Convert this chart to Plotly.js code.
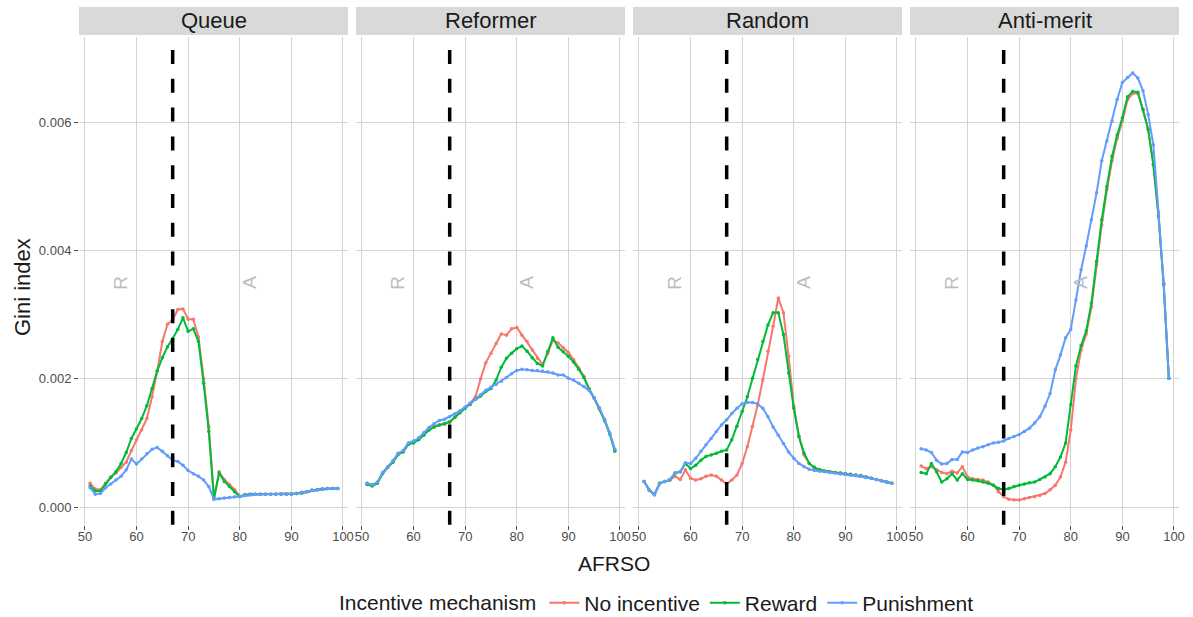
<!DOCTYPE html>
<html>
<head>
<meta charset="utf-8">
<script src="https://cdn.plot.ly/plotly-3.0.1.min.js"></script>
<style>html,body{margin:0;padding:0;background:#fff;}#chart{width:1193px;height:617px;}</style>
</head>
<body>
<div id="chart"></div>
<script>
// AFRSO values (x)
const afrso = [51,52,53,54,55,56,57,58,59,60,61,62,63,64,65,66,67,68,69,70,71,72,73,74,75,76,77,78,79,80,81,82,83,84,85,86,87,88,89,90,91,92,93,94,95,96,97,98,99];

const panels = ["Queue", "Reformer", "Random", "Anti-merit"];
const seriesNames = ["No incentive", "Reward", "Punishment"];
const seriesColors = ["#F8766D", "#00BA38", "#619CFF"];

// Gini index values, in units of 0.001
const queueNoIncentive = [0.37,0.28,0.27,0.37,0.47,0.53,0.62,0.70,0.88,1.05,1.20,1.38,1.72,2.12,2.58,2.85,2.92,3.08,3.09,2.93,2.93,2.65,2.00,1.25,0.14,0.55,0.43,0.35,0.27,0.17,0.19,0.20,0.20,0.20,0.20,0.20,0.20,0.20,0.20,0.20,0.21,0.22,0.24,0.26,0.27,0.28,0.29,0.29,0.29];
const queueReward = [0.33,0.25,0.25,0.36,0.46,0.55,0.68,0.85,1.07,1.22,1.38,1.58,1.85,2.12,2.33,2.50,2.63,2.77,2.95,2.74,2.78,2.58,1.93,1.18,0.13,0.53,0.40,0.32,0.24,0.16,0.19,0.20,0.20,0.20,0.20,0.20,0.20,0.20,0.20,0.20,0.21,0.22,0.24,0.26,0.27,0.28,0.29,0.29,0.29];
const queuePunishment = [0.30,0.20,0.21,0.30,0.36,0.42,0.48,0.58,0.75,0.67,0.75,0.83,0.90,0.93,0.87,0.80,0.73,0.71,0.65,0.57,0.52,0.48,0.42,0.32,0.12,0.13,0.14,0.15,0.16,0.17,0.18,0.19,0.20,0.20,0.20,0.20,0.20,0.20,0.20,0.20,0.21,0.23,0.24,0.26,0.27,0.28,0.29,0.29,0.29];

const reformerNoIncentive = [0.37,0.34,0.38,0.53,0.62,0.70,0.82,0.87,0.98,1.02,1.06,1.14,1.21,1.26,1.28,1.29,1.32,1.40,1.48,1.55,1.62,1.72,2.00,2.25,2.40,2.55,2.70,2.68,2.78,2.80,2.68,2.58,2.45,2.32,2.22,2.40,2.60,2.56,2.48,2.41,2.30,2.17,2.04,1.84,1.70,1.54,1.36,1.15,0.89];
const reformerReward = [0.35,0.33,0.37,0.52,0.62,0.70,0.82,0.86,0.98,1.00,1.05,1.12,1.20,1.25,1.28,1.30,1.33,1.40,1.47,1.54,1.60,1.68,1.73,1.80,1.85,1.98,2.18,2.32,2.40,2.47,2.51,2.43,2.33,2.24,2.20,2.43,2.64,2.49,2.42,2.35,2.26,2.15,2.02,1.84,1.70,1.53,1.35,1.14,0.87];
const reformerPunishment = [0.37,0.35,0.39,0.54,0.63,0.72,0.84,0.88,1.00,1.03,1.08,1.16,1.24,1.30,1.35,1.37,1.41,1.45,1.50,1.56,1.62,1.68,1.75,1.82,1.87,1.91,1.96,2.02,2.08,2.13,2.15,2.14,2.13,2.13,2.12,2.11,2.09,2.06,2.06,2.01,1.98,1.93,1.88,1.82,1.70,1.55,1.37,1.16,0.90];

const randomNoIncentive = [0.40,0.27,0.20,0.37,0.40,0.42,0.48,0.43,0.58,0.45,0.42,0.44,0.48,0.50,0.48,0.42,0.36,0.42,0.50,0.68,0.94,1.26,1.59,1.98,2.43,2.82,3.26,3.03,2.35,1.57,1.10,0.81,0.68,0.60,0.58,0.56,0.55,0.54,0.53,0.52,0.51,0.50,0.49,0.47,0.45,0.43,0.41,0.39,0.37];
const randomReward = [0.40,0.26,0.19,0.37,0.40,0.42,0.53,0.55,0.68,0.60,0.65,0.73,0.79,0.81,0.84,0.87,0.89,1.05,1.26,1.49,1.72,2.01,2.30,2.58,2.84,3.03,3.03,2.69,2.09,1.54,1.10,0.84,0.68,0.62,0.58,0.56,0.55,0.54,0.53,0.52,0.51,0.50,0.49,0.47,0.45,0.43,0.41,0.39,0.37];
const randomPunishment = [0.40,0.26,0.19,0.36,0.40,0.43,0.53,0.55,0.69,0.68,0.76,0.87,0.97,1.07,1.18,1.28,1.36,1.46,1.54,1.61,1.63,1.63,1.61,1.54,1.41,1.25,1.12,0.99,0.86,0.76,0.68,0.63,0.59,0.57,0.56,0.55,0.54,0.53,0.52,0.51,0.50,0.49,0.48,0.46,0.45,0.43,0.41,0.39,0.37];

const antiNoIncentive = [0.64,0.60,0.63,0.58,0.54,0.52,0.56,0.53,0.63,0.47,0.44,0.43,0.42,0.39,0.34,0.24,0.16,0.12,0.11,0.11,0.13,0.15,0.16,0.18,0.21,0.27,0.34,0.47,0.70,1.20,2.00,2.45,2.70,3.12,3.78,4.40,4.95,5.40,5.75,6.02,6.35,6.45,6.45,6.20,5.89,5.34,4.54,3.47,2.01];
const antiReward = [0.54,0.52,0.68,0.55,0.39,0.44,0.52,0.42,0.52,0.43,0.42,0.41,0.39,0.37,0.34,0.29,0.27,0.29,0.32,0.34,0.36,0.38,0.39,0.43,0.47,0.52,0.63,0.78,1.00,1.60,2.20,2.52,2.75,3.18,3.83,4.48,5.00,5.47,5.80,6.07,6.40,6.48,6.47,6.20,5.89,5.34,4.54,3.47,2.01];
const antiPunishment = [0.91,0.89,0.85,0.73,0.67,0.68,0.74,0.74,0.86,0.85,0.89,0.92,0.94,0.97,1.00,1.01,1.03,1.07,1.10,1.13,1.18,1.23,1.31,1.41,1.57,1.77,2.14,2.37,2.64,2.77,3.23,3.70,4.07,4.48,4.90,5.40,5.71,6.02,6.36,6.62,6.70,6.77,6.69,6.49,6.12,5.65,4.60,3.49,2.01];

const panelData = [
  [queueNoIncentive, queueReward, queuePunishment],
  [reformerNoIncentive, reformerReward, reformerPunishment],
  [randomNoIncentive, randomReward, randomPunishment],
  [antiNoIncentive, antiReward, antiPunishment]
];

const xTicks = [50, 60, 70, 80, 90, 100];
const yTicks = [0, 0.002, 0.004, 0.006];
const threshold = 67;
const regionLabels = [{t: "R", x: 57}, {t: "A", x: 82}];
const SCALE = 0.001;

const FONT = "Liberation Sans, Arial, Helvetica, sans-serif";
const W = 1193, H = 617;
const mL = 79, mR = 13, mT = 37, mB = 92;
const plotW = W - mL - mR, plotH = H - mT - mB;
const panelW = 269, gap = 8;

const traces = [];
panelData.forEach((series, p) => {
  const xa = p === 0 ? "x" : "x" + (p + 1);
  const ya = p === 0 ? "y" : "y" + (p + 1);
  series.forEach((vals, s) => {
    traces.push({
      type: "scatter",
      mode: "lines+markers",
      x: afrso,
      y: vals.map(v => v * SCALE),
      xaxis: xa, yaxis: ya,
      name: seriesNames[s],
      legendgroup: seriesNames[s],
      showlegend: p === 0,
      line: {color: seriesColors[s], width: 2},
      marker: {color: seriesColors[s], size: 3.5},
      hoverinfo: "x+y+name"
    });
  });
});

const layout = {
  width: W, height: H,
  margin: {l: mL, r: mR, t: mT, b: mB, pad: 0, autoexpand: false},
  paper_bgcolor: "#ffffff",
  plot_bgcolor: "#ffffff",
  font: {family: FONT, color: "#1a1a1a"},
  showlegend: true,
  legend: {
    orientation: "h",
    x: (658 - mL) / plotW, xanchor: "center",
    y: (mT + plotH - 603) / plotH, yanchor: "middle",
    title: {text: "Incentive mechanism", side: "left", font: {size: 21, color: "#1a1a1a"}},
    font: {size: 21, color: "#1a1a1a"},
    itemwidth: 30,
    tracegroupgap: 0,
    bgcolor: "rgba(0,0,0,0)"
  },
  shapes: [],
  annotations: []
};

panels.forEach((name, p) => {
  const sfx = p === 0 ? "" : String(p + 1);
  const d0 = (p * (panelW + gap)) / plotW;
  const d1 = (p * (panelW + gap) + panelW) / plotW;
  layout["xaxis" + sfx] = {
    domain: [d0, d1],
    range: [48.85, 100.97],
    anchor: "y" + sfx,
    tickmode: "array", tickvals: xTicks,
    ticks: "outside", ticklen: 4, tickwidth: 1, tickcolor: "#4d4d4d",
    ticklabelstandoff: -5,
    tickfont: {size: 13, color: "#4d4d4d", family: FONT},
    showgrid: true, gridcolor: "#d4d4d4", gridwidth: 1,
    zeroline: false, showline: false, fixedrange: true
  };
  layout["yaxis" + sfx] = {
    domain: [0, 1],
    range: [-0.00028, 0.00733],
    anchor: "x" + sfx,
    matches: p === 0 ? undefined : "y",
    tickmode: "array", tickvals: yTicks,
    tickformat: ".3f",
    showticklabels: p === 0,
    ticks: p === 0 ? "outside" : "",
    ticklen: 4, tickwidth: 1, tickcolor: "#4d4d4d",
    tickfont: {size: 13, color: "#4d4d4d", family: FONT},
    showgrid: true, gridcolor: "#d4d4d4", gridwidth: 1,
    zeroline: false, showline: false, fixedrange: true
  };
  // strip
  layout.shapes.push({
    type: "rect", xref: "x" + sfx + " domain", yref: "paper",
    x0: 0, x1: 1, y0: 1 + 2 / plotH, y1: 1 + 30 / plotH,
    fillcolor: "#d9d9d9", line: {width: 0}, layer: "below"
  });
  layout.annotations.push({
    text: name, xref: "x" + sfx + " domain", yref: "paper",
    x: 0.5, y: 1 + 16 / plotH, xanchor: "center", yanchor: "middle",
    showarrow: false, font: {size: 22, color: "#1a1a1a", family: FONT}
  });
  // threshold line (drawn from top down)
  layout.shapes.push({
    type: "line", xref: "x" + sfx, yref: "y" + sfx + " domain",
    x0: threshold, x1: threshold, y0: 1 - 13 / plotH, y1: 0,
    line: {color: "#000000", width: 3.5, dash: "14px,14.8px"}, layer: "above"
  });
  regionLabels.forEach(r => {
    layout.annotations.push({
      text: r.t, xref: "x" + sfx, yref: "y" + sfx,
      x: r.x, y: 0.0035, textangle: -90, showarrow: false,
      xanchor: "center", yanchor: "middle",
      font: {size: 19, color: "#bdbdbd", family: FONT}
    });
  });
});

layout.annotations.push({
  text: "AFRSO", xref: "paper", yref: "paper",
  x: (614 - mL) / plotW, y: (mT + plotH - 563) / plotH,
  xanchor: "center", yanchor: "middle", showarrow: false,
  font: {size: 21, color: "#1a1a1a", family: FONT}
});
layout.annotations.push({
  text: "Gini index", xref: "paper", yref: "paper",
  x: (22 - mL) / plotW, y: (mT + plotH - 287) / plotH,
  xanchor: "center", yanchor: "middle", textangle: -90, showarrow: false,
  font: {size: 22, color: "#1a1a1a", family: FONT}
});

Plotly.newPlot("chart", traces, layout, {displayModeBar: false, staticPlot: true});
</script>
</body>
</html>
